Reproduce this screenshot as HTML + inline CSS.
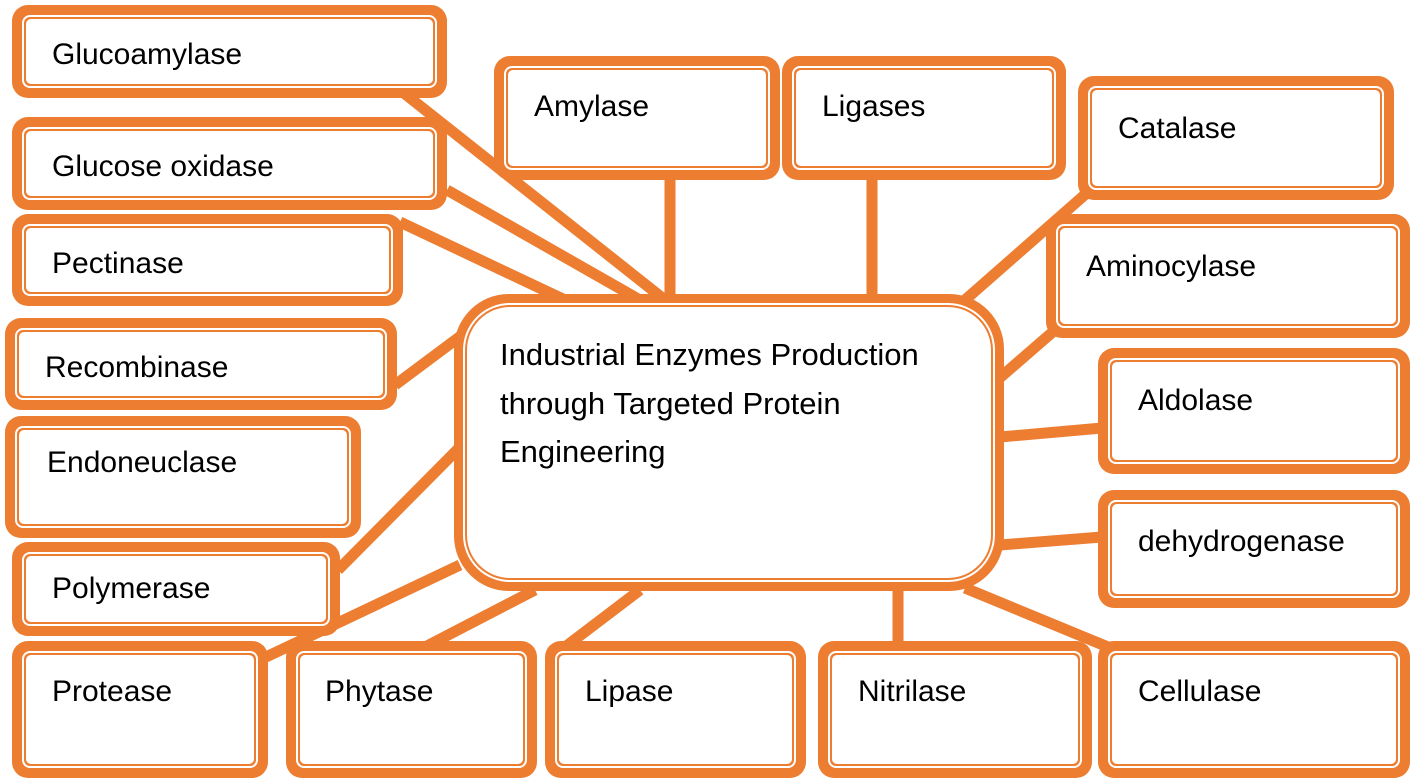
<!DOCTYPE html>
<html><head><meta charset="utf-8"><style>html,body{margin:0;padding:0;background:#fff}svg{display:block}text{font-family:"Liberation Sans",sans-serif;font-size:30px;fill:#000}text.c{font-size:31px}</style></head><body>
<svg width="1418" height="784" viewBox="0 0 1418 784" xmlns="http://www.w3.org/2000/svg">
<g stroke="#ED7D31" stroke-width="11" stroke-linecap="butt">
<line x1="400" y1="90" x2="665" y2="300"/>
<line x1="447" y1="190" x2="640" y2="300"/>
<line x1="400" y1="222" x2="565" y2="300"/>
<line x1="670" y1="178" x2="670" y2="300"/>
<line x1="872" y1="178" x2="872" y2="300"/>
<line x1="1088" y1="192" x2="965" y2="300"/>
<line x1="1055" y1="330" x2="995" y2="382"/>
<line x1="1000" y1="437" x2="1102" y2="428"/>
<line x1="1000" y1="545" x2="1102" y2="537"/>
<line x1="395" y1="385" x2="462" y2="335"/>
<line x1="338" y1="570" x2="462" y2="445"/>
<line x1="266" y1="657" x2="460" y2="565"/>
<line x1="425" y1="647" x2="535" y2="590"/>
<line x1="565" y1="647" x2="640" y2="590"/>
<line x1="898" y1="588" x2="898" y2="643"/>
<line x1="965" y1="588" x2="1108" y2="647"/>
</g>
<g fill="#ED7D31">
<rect x="12" y="5" width="435" height="93" rx="16"/><rect x="22" y="15" width="415" height="73" rx="8" fill="#fff"/><rect x="24" y="17" width="411" height="69" rx="6"/><rect x="26" y="19" width="407" height="65" rx="5" fill="#fff"/>
<rect x="12" y="117" width="435" height="93" rx="16"/><rect x="22" y="127" width="415" height="73" rx="8" fill="#fff"/><rect x="24" y="129" width="411" height="69" rx="6"/><rect x="26" y="131" width="407" height="65" rx="5" fill="#fff"/>
<rect x="12" y="214" width="391" height="92" rx="16"/><rect x="22" y="224" width="371" height="72" rx="8" fill="#fff"/><rect x="24" y="226" width="367" height="68" rx="6"/><rect x="26" y="228" width="363" height="64" rx="5" fill="#fff"/>
<rect x="5" y="318" width="392" height="92" rx="16"/><rect x="15" y="328" width="372" height="72" rx="8" fill="#fff"/><rect x="17" y="330" width="368" height="68" rx="6"/><rect x="19" y="332" width="364" height="64" rx="5" fill="#fff"/>
<rect x="5" y="416" width="356" height="122" rx="16"/><rect x="15" y="426" width="336" height="102" rx="8" fill="#fff"/><rect x="17" y="428" width="332" height="98" rx="6"/><rect x="19" y="430" width="328" height="94" rx="5" fill="#fff"/>
<rect x="12" y="542" width="328" height="94" rx="16"/><rect x="22" y="552" width="308" height="74" rx="8" fill="#fff"/><rect x="24" y="554" width="304" height="70" rx="6"/><rect x="26" y="556" width="300" height="66" rx="5" fill="#fff"/>
<rect x="12" y="641" width="256" height="137" rx="16"/><rect x="22" y="651" width="236" height="117" rx="8" fill="#fff"/><rect x="24" y="653" width="232" height="113" rx="6"/><rect x="26" y="655" width="228" height="109" rx="5" fill="#fff"/>
<rect x="286" y="641" width="251" height="137" rx="16"/><rect x="296" y="651" width="231" height="117" rx="8" fill="#fff"/><rect x="298" y="653" width="227" height="113" rx="6"/><rect x="300" y="655" width="223" height="109" rx="5" fill="#fff"/>
<rect x="545" y="641" width="261" height="137" rx="16"/><rect x="555" y="651" width="241" height="117" rx="8" fill="#fff"/><rect x="557" y="653" width="237" height="113" rx="6"/><rect x="559" y="655" width="233" height="109" rx="5" fill="#fff"/>
<rect x="818" y="641" width="274" height="137" rx="16"/><rect x="828" y="651" width="254" height="117" rx="8" fill="#fff"/><rect x="830" y="653" width="250" height="113" rx="6"/><rect x="832" y="655" width="246" height="109" rx="5" fill="#fff"/>
<rect x="1098" y="641" width="312" height="137" rx="16"/><rect x="1108" y="651" width="292" height="117" rx="8" fill="#fff"/><rect x="1110" y="653" width="288" height="113" rx="6"/><rect x="1112" y="655" width="284" height="109" rx="5" fill="#fff"/>
<rect x="494" y="56" width="286" height="124" rx="16"/><rect x="504" y="66" width="266" height="104" rx="8" fill="#fff"/><rect x="506" y="68" width="262" height="100" rx="6"/><rect x="508" y="70" width="258" height="96" rx="5" fill="#fff"/>
<rect x="782" y="56" width="284" height="124" rx="16"/><rect x="792" y="66" width="264" height="104" rx="8" fill="#fff"/><rect x="794" y="68" width="260" height="100" rx="6"/><rect x="796" y="70" width="256" height="96" rx="5" fill="#fff"/>
<rect x="1078" y="76" width="316" height="124" rx="16"/><rect x="1088" y="86" width="296" height="104" rx="8" fill="#fff"/><rect x="1090" y="88" width="292" height="100" rx="6"/><rect x="1092" y="90" width="288" height="96" rx="5" fill="#fff"/>
<rect x="1046" y="214" width="364" height="124" rx="16"/><rect x="1056" y="224" width="344" height="104" rx="8" fill="#fff"/><rect x="1058" y="226" width="340" height="100" rx="6"/><rect x="1060" y="228" width="336" height="96" rx="5" fill="#fff"/>
<rect x="1098" y="348" width="312" height="126" rx="16"/><rect x="1108" y="358" width="292" height="106" rx="8" fill="#fff"/><rect x="1110" y="360" width="288" height="102" rx="6"/><rect x="1112" y="362" width="284" height="98" rx="5" fill="#fff"/>
<rect x="1098" y="490" width="312" height="118" rx="16"/><rect x="1108" y="500" width="292" height="98" rx="8" fill="#fff"/><rect x="1110" y="502" width="288" height="94" rx="6"/><rect x="1112" y="504" width="284" height="90" rx="5" fill="#fff"/>
<rect x="454" y="294" width="550" height="297" rx="55"/><rect x="463" y="303" width="532" height="279" rx="47" fill="#fff"/><rect x="465" y="305" width="528" height="275" rx="45"/><rect x="467" y="307" width="524" height="271" rx="43" fill="#fff"/>
</g>
<text x="52" y="64">Glucoamylase</text>
<text x="52" y="176">Glucose oxidase</text>
<text x="52" y="273">Pectinase</text>
<text x="45" y="377">Recombinase</text>
<text x="47" y="472">Endoneuclase</text>
<text x="52" y="598">Polymerase</text>
<text x="52" y="701">Protease</text>
<text x="325" y="701">Phytase</text>
<text x="585" y="701">Lipase</text>
<text x="858" y="701">Nitrilase</text>
<text x="1138" y="701">Cellulase</text>
<text x="534" y="116">Amylase</text>
<text x="822" y="116">Ligases</text>
<text x="1118" y="138">Catalase</text>
<text x="1086" y="276">Aminocylase</text>
<text x="1138" y="410">Aldolase</text>
<text x="1138" y="551">dehydrogenase</text>
<text class="c" x="500" y="365">Industrial Enzymes Production</text>
<text class="c" x="500" y="414">through Targeted Protein</text>
<text class="c" x="500" y="462">Engineering</text>
</svg>
</body></html>
